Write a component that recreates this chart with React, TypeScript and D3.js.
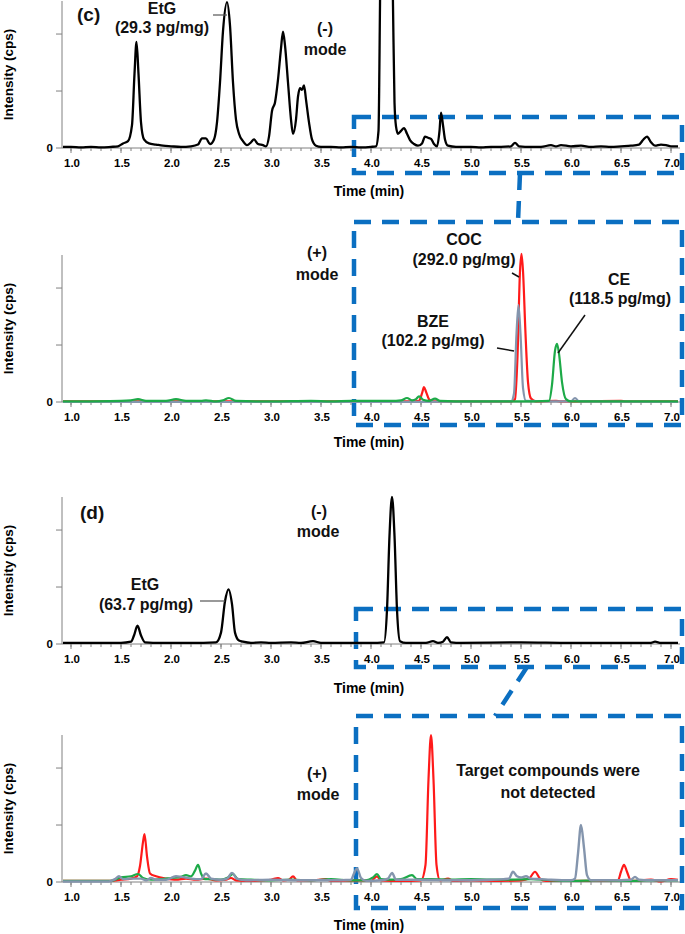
import React from 'react';
import * as d3 from 'd3';

type Pt = [number, number];

// ---------- DATA (time in min, intensity in arbitrary units: 1 unit = one y tick step) ----------
const timeTicksMajor = [1.0, 1.5, 2.0, 2.5, 3.0, 3.5, 4.0, 4.5, 5.0, 5.5, 6.0, 6.5, 7.0];
const intensityTicks = [0, 1, 2];

// (c) negative mode – black
const cNegBlack: Pt[] = [
  [0.92,0.02],[1.0,0.02],[1.1,0.01],[1.2,0.02],[1.3,0.01],[1.4,0.02],[1.47,0.03],[1.52,0.08],[1.57,0.12],
  [1.61,0.4],[1.635,1.3],[1.655,1.86],[1.675,1.3],[1.7,0.45],[1.73,0.15],[1.78,0.08],[1.85,0.06],[1.92,0.04],
  [2.0,0.03],[2.1,0.02],[2.2,0.03],[2.27,0.06],[2.31,0.17],[2.35,0.17],[2.39,0.07],[2.43,0.15],[2.46,0.45],
  [2.49,1.15],[2.52,2.05],[2.56,2.56],[2.59,2.15],[2.62,1.15],[2.65,0.5],[2.68,0.25],[2.72,0.12],[2.76,0.05],
  [2.8,0.1],[2.83,0.15],[2.87,0.07],[2.92,0.05],[2.95,0.03],[2.98,0.2],[3.01,0.65],[3.04,0.8],[3.07,1.2],
  [3.1,1.75],[3.12,2.04],[3.14,1.8],[3.17,1.15],[3.2,0.5],[3.22,0.25],[3.25,0.5],[3.27,0.9],[3.29,1.05],
  [3.31,1.02],[3.33,1.1],[3.35,0.85],[3.38,0.45],[3.41,0.15],[3.45,0.04],[3.5,0.02],[3.6,0.02],[3.7,0.01],
  [3.8,0.02],[3.9,0.01],[4.0,0.02],[4.05,0.03],[4.075,0.3],[4.09,2.5],[4.11,6],[4.16,7],[4.2,5],[4.22,2.5],
  [4.235,0.8],[4.25,0.38],[4.27,0.25],[4.3,0.3],[4.33,0.35],[4.36,0.25],[4.39,0.14],[4.43,0.07],[4.47,0.04],
  [4.51,0.08],[4.54,0.2],[4.57,0.18],[4.6,0.16],[4.63,0.07],[4.66,0.03],[4.685,0.3],[4.7,0.62],[4.72,0.4],
  [4.74,0.15],[4.77,0.04],[4.85,0.02],[5.0,0.02],[5.1,0.01],[5.2,0.02],[5.3,0.02],[5.4,0.03],[5.44,0.09],
  [5.48,0.03],[5.6,0.02],[5.7,0.02],[5.8,0.05],[5.85,0.03],[5.9,0.05],[6.0,0.03],[6.1,0.04],[6.2,0.02],
  [6.3,0.03],[6.4,0.02],[6.5,0.03],[6.6,0.04],[6.68,0.06],[6.72,0.14],[6.76,0.2],[6.8,0.1],[6.84,0.04],
  [6.9,0.06],[6.95,0.05],[7.0,0.03],[7.07,0.03],
];

// (c) positive mode
const cPosCOC: Pt[] = [
  [0.92,0.01],[1.5,0.01],[2.0,0.01],[3.0,0.01],[4.0,0.01],[4.4,0.01],[4.48,0.02],[4.51,0.15],[4.53,0.26],
  [4.55,0.18],[4.58,0.05],[4.62,0.01],[5.0,0.01],[5.4,0.01],[5.44,0.05],[5.465,0.8],[5.49,2.3],[5.505,2.6],
  [5.52,2.3],[5.545,1.2],[5.57,0.35],[5.6,0.06],[5.65,0.01],[5.85,0.02],[5.9,0.01],[6.5,0.02],[6.55,0.01],[7.07,0.01],
];
const cPosBZE: Pt[] = [
  [0.92,0.0],[2.0,0.0],[4.0,0.0],[5.4,0.01],[5.43,0.15],[5.455,1.2],[5.475,1.7],[5.495,1.2],[5.52,0.25],
  [5.55,0.02],[6.0,0.01],[6.04,0.07],[6.08,0.01],[7.07,0.0],
];
const cPosCE: Pt[] = [
  [0.92,0.01],[1.5,0.02],[1.6,0.03],[1.67,0.05],[1.75,0.02],[1.95,0.02],[2.05,0.05],[2.15,0.02],[2.3,0.02],
  [2.35,0.03],[2.45,0.01],[2.52,0.03],[2.58,0.07],[2.65,0.02],[3.0,0.01],[3.4,0.02],[3.6,0.01],[3.8,0.02],
  [4.2,0.02],[4.3,0.03],[4.36,0.07],[4.41,0.03],[4.45,0.05],[4.48,0.1],[4.52,0.04],[4.58,0.02],[4.64,0.06],
  [4.69,0.02],[5.0,0.01],[5.5,0.01],[5.78,0.02],[5.81,0.3],[5.84,0.9],[5.86,1.02],[5.88,0.85],[5.91,0.35],
  [5.95,0.05],[6.0,0.01],[6.5,0.01],[7.07,0.01],
];

// (d) negative mode – black
const dNegBlack: Pt[] = [
  [0.92,0.02],[1.2,0.02],[1.5,0.02],[1.6,0.04],[1.63,0.15],[1.665,0.32],[1.7,0.15],[1.74,0.03],[1.9,0.02],
  [2.2,0.02],[2.45,0.03],[2.5,0.2],[2.54,0.75],[2.575,0.96],[2.61,0.7],[2.64,0.2],[2.68,0.06],[2.72,0.04],
  [2.8,0.02],[2.9,0.03],[3.0,0.02],[3.2,0.03],[3.3,0.02],[3.42,0.05],[3.5,0.02],[4.0,0.02],[4.13,0.03],
  [4.16,0.6],[4.185,1.9],[4.21,2.58],[4.235,1.9],[4.26,0.6],[4.29,0.05],[4.35,0.02],[4.55,0.02],[4.62,0.05],
  [4.67,0.02],[4.72,0.04],[4.76,0.12],[4.8,0.03],[4.9,0.02],[5.5,0.03],[6.0,0.02],[6.8,0.02],[6.84,0.04],
  [6.9,0.02],[7.07,0.02],
];

// (d) positive mode
const dPosRed: Pt[] = [
  [0.92,0.02],[1.4,0.02],[1.5,0.04],[1.6,0.06],[1.66,0.1],[1.69,0.28],[1.72,0.7],[1.735,0.84],[1.76,0.45],
  [1.79,0.15],[1.85,0.1],[1.95,0.06],[2.05,0.04],[2.15,0.06],[2.25,0.04],[2.35,0.06],[2.45,0.03],[2.55,0.04],
  [2.6,0.07],[2.65,0.03],[2.8,0.02],[3.0,0.04],[3.07,0.07],[3.12,0.03],[3.18,0.04],[3.22,0.1],[3.26,0.03],
  [3.4,0.03],[3.55,0.05],[3.6,0.02],[3.9,0.03],[4.0,0.02],[4.06,0.1],[4.1,0.03],[4.3,0.02],[4.5,0.03],
  [4.545,0.3],[4.575,1.8],[4.6,2.58],[4.625,1.8],[4.655,0.3],[4.69,0.03],[4.77,0.06],[4.82,0.02],[5.0,0.03],
  [5.3,0.02],[5.5,0.03],[5.58,0.06],[5.64,0.18],[5.69,0.06],[5.75,0.02],[6.0,0.02],[6.2,0.02],[6.47,0.03],
  [6.5,0.18],[6.53,0.3],[6.56,0.18],[6.6,0.02],[6.8,0.04],[6.9,0.01],[7.0,0.05],[7.07,0.04],
];
const dPosGreen: Pt[] = [
  [0.92,0.02],[1.4,0.02],[1.5,0.08],[1.6,0.1],[1.67,0.14],[1.72,0.07],[1.8,0.04],[1.9,0.05],[2.0,0.07],
  [2.1,0.09],[2.15,0.12],[2.2,0.1],[2.24,0.2],[2.27,0.3],[2.3,0.15],[2.34,0.05],[2.4,0.05],[2.5,0.04],
  [2.57,0.08],[2.62,0.14],[2.67,0.05],[2.8,0.04],[3.0,0.03],[3.2,0.04],[3.4,0.03],[3.6,0.05],[3.8,0.03],
  [3.95,0.03],[4.02,0.08],[4.06,0.14],[4.1,0.05],[4.2,0.04],[4.3,0.05],[4.41,0.12],[4.46,0.05],[4.6,0.05],
  [4.8,0.04],[5.0,0.05],[5.2,0.04],[5.4,0.04],[5.6,0.05],[5.8,0.03],[6.0,0.02],[6.3,0.03],[6.6,0.02],
  [6.8,0.03],[7.07,0.03],
];
const dPosGray: Pt[] = [
  [0.92,0.01],[1.38,0.01],[1.44,0.05],[1.48,0.1],[1.52,0.05],[1.6,0.06],[1.7,0.06],[1.75,0.03],[1.8,0.07],
  [1.85,0.04],[1.95,0.04],[2.05,0.1],[2.1,0.09],[2.2,0.06],[2.3,0.05],[2.35,0.15],[2.4,0.06],[2.5,0.04],
  [2.56,0.06],[2.61,0.16],[2.66,0.06],[2.75,0.03],[3.0,0.04],[3.3,0.03],[3.6,0.03],[3.8,0.04],[3.83,0.15],
  [3.86,0.24],[3.9,0.07],[3.95,0.02],[4.1,0.03],[4.17,0.06],[4.21,0.16],[4.25,0.04],[4.5,0.04],[4.8,0.03],
  [5.2,0.04],[5.38,0.06],[5.42,0.18],[5.46,0.1],[5.5,0.08],[5.55,0.1],[5.6,0.06],[5.7,0.05],[5.8,0.04],
  [6.0,0.03],[6.04,0.06],[6.07,0.5],[6.1,1.0],[6.13,0.6],[6.16,0.12],[6.2,0.03],[6.4,0.03],[6.6,0.04],
  [6.64,0.09],[6.68,0.04],[6.8,0.03],[7.07,0.03],
];

// ---------- LAYOUT ----------
const W = 685;
const H = 934;
const FONT = "'Liberation Sans', Arial, Helvetica, sans-serif";
const AXIS_GRAY = '#808080';
const BLUE = '#0b6fc1';
const RED = '#ff1a1a';
const GREEN = '#1daa48';
const SLATE = '#8495ad';

const x = d3.scaleLinear().domain([0.91, 7.09]).range([62, 680]);
const AXIS_H = 147;
const minorTicks = d3.range(10, 71).map((d) => d / 10);

interface TraceDef { data: Pt[]; color: string; width: number }

function Panel({ base, traces, timeLabelDy }: { base: number; traces: TraceDef[]; timeLabelDy: number }) {
  const y = d3.scaleLinear().domain([0, 2.58]).range([base, base - AXIS_H]);
  const line = d3
    .line<Pt>()
    .x((d) => x(d[0]))
    .y((d) => y(d[1]))
    .curve(d3.curveMonotoneX);
  const [x0, x1] = x.range();
  return (
    <g>
      {/* y axis */}
      <line x1={x0} x2={x0} y1={y(2.58)} y2={base} stroke={AXIS_GRAY} strokeWidth={1} />
      {intensityTicks.map((t) => (
        <line key={'yt' + t} x1={x0 - 6} x2={x0} y1={y(t)} y2={y(t)} stroke={AXIS_GRAY} strokeWidth={1} />
      ))}
      <text x={x0 - 9} y={y(0) + 4} textAnchor="end" fontSize={11.5} fontWeight="bold" fontFamily={FONT}>0</text>
      {/* x axis */}
      <line x1={x0} x2={x1} y1={base} y2={base} stroke={AXIS_GRAY} strokeWidth={1} />
      {minorTicks.map((t) => (
        <line key={'mt' + t} x1={x(t)} x2={x(t)} y1={base} y2={base + 3} stroke={AXIS_GRAY} strokeWidth={1} />
      ))}
      {timeTicksMajor.map((t) => (
        <g key={'xt' + t}>
          <line x1={x(t)} x2={x(t)} y1={base} y2={base + 5} stroke={AXIS_GRAY} strokeWidth={1} />
          <text x={x(t) + 1} y={base + 19} textAnchor="middle" fontSize={11.5} fontWeight="bold" fontFamily={FONT}>
            {t.toFixed(1)}
          </text>
        </g>
      ))}
      <text x={369} y={base + timeLabelDy} textAnchor="middle" fontSize={14} fontWeight="bold" fontFamily={FONT}>
        Time (min)
      </text>
      <text
        transform={`translate(13, ${base - AXIS_H / 2}) rotate(-90)`}
        textAnchor="middle"
        fontSize={13.5}
        fontWeight="bold"
        fontFamily={FONT}
      >
        Intensity (cps)
      </text>
      {traces.map((tr, i) => (
        <path key={i} d={line(tr.data) || ''} fill="none" stroke={tr.color} strokeWidth={tr.width} strokeLinejoin="round" />
      ))}
    </g>
  );
}

function T({ x: tx, y: ty, size = 16, anchor = 'middle', children }: any) {
  return (
    <text x={tx} y={ty} fontSize={size} fontWeight="bold" textAnchor={anchor} fontFamily={FONT} fill="#111">
      {children}
    </text>
  );
}

const dash = { stroke: BLUE, strokeWidth: 4.5, strokeDasharray: '17 11', fill: 'none' };

export default function App() {
  return (
    <svg width={W} height={H} style={{ position: 'absolute', left: 0, top: 0, background: '#fff' }}>
      <rect x={0} y={0} width={W} height={H} fill="#fff" />
      {/* blue zoom boxes (behind traces) */}
      <rect x={354} y={117} width={328} height={56} {...dash} />
      <line x1={520} y1={173} x2={518} y2={222} {...dash} />
      <rect x={354} y={222} width={328} height={203} {...dash} />
      <rect x={356} y={609} width={326} height={58} {...dash} />
      <line x1={527} y1={667} x2={495} y2={716} {...dash} />
      <rect x={356} y={716} width={326} height={192} {...dash} />

      <Panel base={148} timeLabelDy={48} traces={[{ data: cNegBlack, color: '#000', width: 2.3 }]} />
      <Panel
        base={402}
        timeLabelDy={45}
        traces={[
          { data: cPosCOC, color: RED, width: 2.2 },
          { data: cPosBZE, color: SLATE, width: 2.2 },
          { data: cPosCE, color: GREEN, width: 2.2 },
        ]}
      />
      <Panel base={644} timeLabelDy={49} traces={[{ data: dNegBlack, color: '#000', width: 2.3 }]} />
      <Panel
        base={882}
        timeLabelDy={48}
        traces={[
          { data: dPosRed, color: RED, width: 2.2 },
          { data: dPosGreen, color: GREEN, width: 2.2 },
          { data: dPosGray, color: SLATE, width: 2.4 },
        ]}
      />

      {/* Panel (c) negative annotations */}
      <T x={77} y={21} size={19} anchor="start">(c)</T>
      <T x={162} y={14}>EtG</T>
      <T x={162} y={33}>(29.3 pg/mg)</T>
      <line x1={213} y1={15} x2={227} y2={15} stroke="#555" strokeWidth={1.2} />
      <T x={325} y={34}>(-)</T>
      <T x={325} y={55}>mode</T>

      {/* Panel (c) positive annotations */}
      <T x={317} y={258}>(+)</T>
      <T x={317} y={280}>mode</T>
      <T x={464} y={245}>COC</T>
      <T x={464} y={265}>(292.0 pg/mg)</T>
      <line x1={512} y1={273} x2={519} y2={277} stroke="#111" strokeWidth={1.5} />
      <T x={433} y={327}>BZE</T>
      <T x={433} y={346}>(102.2 pg/mg)</T>
      <line x1={497} y1={348} x2={514} y2={351} stroke="#111" strokeWidth={1.5} />
      <T x={619} y={285}>CE</T>
      <T x={620} y={304}>(118.5 pg/mg)</T>
      <line x1={585} y1={315} x2={558} y2={353} stroke="#111" strokeWidth={1.5} />

      {/* Panel (d) negative annotations */}
      <T x={80} y={519} size={19} anchor="start">(d)</T>
      <T x={319} y={517}>(-)</T>
      <T x={318} y={537}>mode</T>
      <T x={145} y={590}>EtG</T>
      <T x={146} y={610}>(63.7 pg/mg)</T>
      <line x1={200} y1={601} x2={225} y2={601} stroke="#555" strokeWidth={1.2} />

      {/* Panel (d) positive annotations */}
      <T x={317} y={779}>(+)</T>
      <T x={318} y={800}>mode</T>
      <T x={548} y={776}>Target compounds were</T>
      <T x={548} y={798}>not detected</T>
    </svg>
  );
}
